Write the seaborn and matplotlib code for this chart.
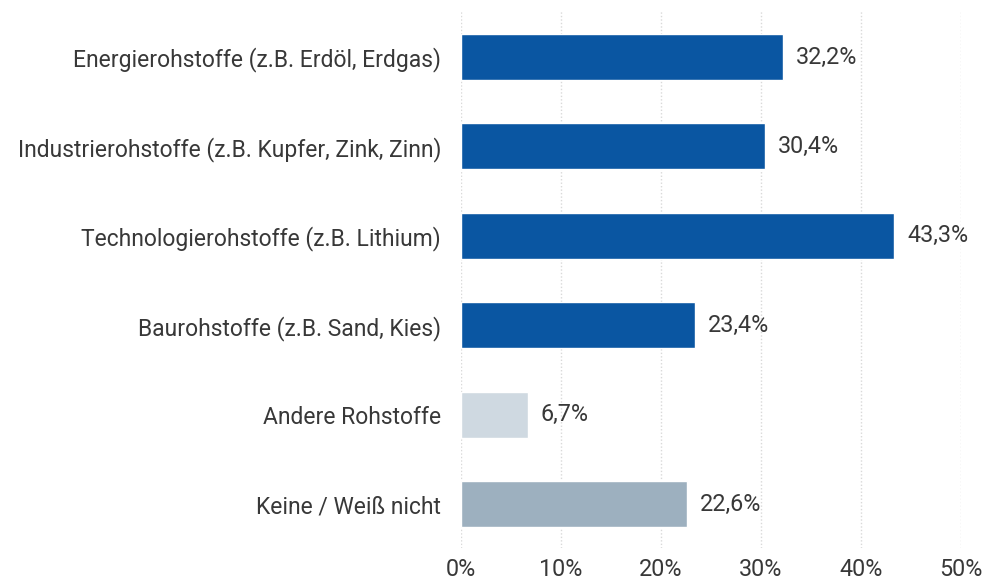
import pandas as pd
import numpy as np
import seaborn as sns
import matplotlib.pyplot as plt

categories = ["Energierohstoffe (z.B. Erdöl, Erdgas)",
              "Industrierohstoffe (z.B. Kupfer, Zink, Zinn)",
              "Technologierohstoffe (z.B. Lithium)",
              "Baurohstoffe (z.B. Sand, Kies)",
              "Andere Rohstoffe",
              "Keine / Weiß nicht"]
values = [32.2, 30.4, 43.3, 23.4, 6.7, 22.6]
bar_colors = ["#0A56A2", "#0A56A2", "#0A56A2", "#0A56A2", "#CFD9E1", "#9DB0BF"]
ticks = [0, 10, 20, 30, 40, 50]

df = pd.DataFrame({"cat": categories, "val": values})

sns.set_style("white")
plt.rcParams['font.family'] = ['Roboto', 'DejaVu Sans']

fig = plt.figure(figsize=(9.84, 5.82), dpi=100)
ax = fig.add_axes([461/984, 1 - 548/582, 500/984, 538/582])

sns.barplot(data=df, x="val", y="cat", hue="cat", palette=bar_colors,
            legend=False, width=0.515, ax=ax, saturation=1)

for i, v in enumerate(values):
    ax.text(v + 1.3, i, f"{v:.1f}%".replace(".", ","), va="center", ha="left",
            fontsize=16.8, color="#383838")

ax.set_xlim(0, 50)
ax.set_ylim(5.49, -0.526)
ax.set_xticks(ticks)
ax.set_xticklabels([f"{t}%" for t in ticks])
ax.xaxis.grid(True, linestyle=(0, (1, 1.5)), color="#d9d9d9", linewidth=1)
ax.set_axisbelow(True)
for s in ax.spines.values():
    s.set_visible(False)
ax.tick_params(axis="both", length=0, labelcolor="#383838")
ax.tick_params(axis="y", pad=14.4, labelsize=16.5)
ax.tick_params(axis="x", pad=7, labelsize=16.8)
ax.set_xlabel("")
ax.set_ylabel("")

plt.savefig("out.png", dpi=100)
plt.close()
